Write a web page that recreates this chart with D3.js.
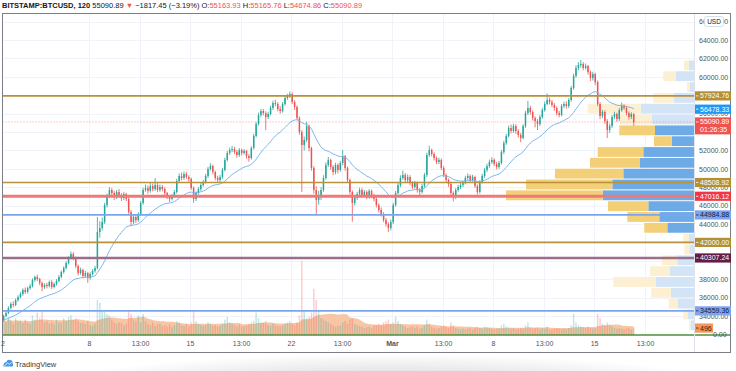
<!DOCTYPE html>
<html><head><meta charset="utf-8">
<script src="https://cdn.jsdelivr.net/npm/d3@7"></script>
<style>html,body{margin:0;padding:0;background:#fff;}svg{display:block;font-family:"Liberation Sans",Arial,sans-serif;}</style>
</head><body><svg id="c" width="736" height="371"></svg>
<script>
// ---------------- DATA ----------------
const symbolTitle = "BITSTAMP:BTCUSD, 120";
const lastQuote = {price: "55090.89", change: "\u22121817.45 (\u22123.19%)", O: "55163.93", H: "55165.76", L: "54674.86", C: "55090.89"};
const startDate = Date.UTC(2021, 1, 2);   // first 4h candle opens Feb 2 2021
const firstOpen = 33560;
const closes = [
34000,34330,34870,35300,35200,35740, 36060,36390,36830,36610,37040,37260, 37910,38240,38020,37590,37150,37370,
37260,37690,37150,37480,37800,38240, 38780,39220,39760,40300,40740,40300, 39430,38670,39000,38350,38670,38130,
38560,38890,39220,43130,43560,44220, 46060,47040,47700,47370,46930,47480, 47150,46820,47260,46720,45300,44220,
44760,44430,45090,46280,47700,47910, 47590,48130,47800,48240,47700,48020, 47800,47370,46930,46720,47040,47480,
48670,49220,49000,49430,49110,48890, 47910,46720,47370,47800,48240,48560, 49220,49980,50300,49650,49000,48780,
49110,49870,50960,51720,52040,52150, 51830,51500,52040,51720,51940,51390, 51170,52260,53570,54870,55850,56280,
56060,55630,55960,56610,57150,57040, 56500,56280,57040,57700,57910,58130, 57260,56720,55520,54000,52590,53130,
54650,52260,50090,47700,46610,47040, 47700,49000,50410,50960,50200,49650, 50410,49870,50630,51390,50090,48780,
47480,46280,46820,47260,47700,47150, 47480,46930,47590,47040,46720,46060, 45520,45090,44430,44000,43570,44220,
46060,47370,48240,49000,49330,48780, 49110,48450,48020,48450,47700,47480, 48130,49330,51500,52040,51610,51170,
50740,50960,50090,49330,48780,48350, 47370,46930,47700,48020,48240,48450, 49000,49220,48780,49110,48130,47480,
48560,49220,49870,50300,50740,50960, 50520,50200,50630,51830,52800,53570, 54430,54110,54650,54110,53670,53350,
54650,56060,56610,56170,55520,55190, 54870,55630,56390,57040,57480,57260, 56930,56610,56060,55850,56830,57040,
56830,57480,58780,60090,60960,61280, 61390,60960,61170,60520,59870,60300, 59430,57040,55740,56170,55190,54220,
54650,55630,55960,55410,56390,56830, 56610,56060,55630,55960,55090.89];
const highs = [
34150,34500,35050,35500,35600,35900, 36250,36600,37000,37100,37200,37500, 38100,38400,38500,38150,37750,37550,
37600,37850,37900,37650,38000,38450, 38950,39400,39950,40500,41000,40950, 40450,39600,39250,39150,38900,38800,
38750,39100,39450,44760,44300,44700, 46300,47300,48020,47900,47600,47700, 47800,47350,47500,47400,46900,45500,
45000,45100,45300,46500,47950,48300, 48200,48500,48400,49000,48450,48300, 48250,48000,47500,47100,47250,47700,
48900,49500,49600,49700,49650,49300, 49050,48100,47550,48000,48450,48800, 49450,50200,50600,50450,49800,49250,
49350,50100,51200,51950,52300,52500, 52400,52050,52250,52200,52150,52050, 51600,52450,53800,55100,56100,56500,
56500,56250,56200,56850,57400,57500, 57250,56800,57250,57950,58150,58400, 58300,57450,56900,55700,54200,53500,
55100,54800,52400,50300,48100,47600, 48000,49300,50700,51300,51100,50400, 50650,50600,50850,52040,51500,50250,
48950,47650,47050,47500,47950,47900, 47700,47650,47800,47750,47300,46900, 46250,45800,45300,44650,44200,44500,
46300,47600,48500,49300,49800,49550, 49400,49300,48650,48700,48600,47900, 48350,49550,51750,52500,52200,51800,
51350,51200,51100,50300,49500,48950, 48500,47550,47900,48250,48450,48700, 49250,49500,49400,49350,49250,48300,
48750,49450,50100,50550,51000,51250, 51150,50750,50850,52050,53050,53800, 54700,54800,54900,54850,54300,53900,
54850,56300,57380,56850,56350,55700, 55400,55850,56600,57300,58200,57750, 57500,57150,56800,56300,57050,57300,
57350,57700,59000,60350,61250,61600, 61826,61600,61450,61300,60700,60550, 60450,59600,57250,56400,56350,55400,
54900,55850,56200,56100,56600,57200, 57000,56800,56250,56150,56050];
const lows = [
33400,33850,34200,34700,34950,35050, 35550,35900,36200,36400,36450,36850, 37100,37700,37800,37350,36700,36950,
37000,37100,36950,37000,37300,37650, 38100,38600,39050,39600,40150,40050, 39200,38400,38500,38100,38150,37600,
37950,38400,38700,39050,42500,43300, 44000,45800,46800,47000,46600,46700, 46900,46500,46600,46500,45100,43780,
44000,44100,44250,44900,46100,47500, 47300,47400,47550,47600,47450,47500, 47550,47100,46700,46400,46550,46850,
47300,48450,48750,48800,48900,48600, 47700,46300,46500,47200,47600,48050, 48400,49000,49800,49400,48750,48500,
48550,48900,49700,50800,51500,51800, 51600,51200,51300,51450,51550,51100, 50770,51000,52100,53400,54700,55600,
55800,54200,55400,55800,56400,56800, 56250,56000,56100,56850,57500,57700, 57050,56400,55300,53700,47480,52000,
52900,51900,49800,47300,44980,46100, 46600,47500,48800,50200,49900,49300, 49400,49500,49700,50400,49800,48500,
47200,44250,46000,46600,47050,46900, 46950,46700,46750,46800,46450,45800, 45250,44800,44200,43700,43130,43300,
44000,45900,47200,48000,48800,48500, 48550,48200,47800,47850,47400,47100, 47300,47950,49100,51300,51350,50900,
50500,50500,49850,49100,48500,48050, 47100,46450,46700,47500,47800,48000, 48300,48800,48550,48600,47900,47200,
47300,48400,49000,49650,50100,50550, 50300,49950,50000,50450,51600,52600, 53400,53850,53900,53800,53400,52900,
53200,54450,55850,55900,55250,54500, 54220,54650,55450,56200,56900,57000, 56700,56300,55800,55600,55700,56600,
56550,56600,57300,58600,59900,60700, 61000,60700,60800,60250,59550,59600, 59100,56800,55400,55500,54900,53350,
53900,54450,55400,55100,55200,56200, 56400,55800,55350,55400,54674.86];
const volumes = [
1100,900,1300,1000,800,1200, 950,1000,850,1100,900,800, 1400,1100,1600,1200,1700,900,
1000,800,900,750,1100,850, 900,1200,1000,1300,1400,1100, 1200,1000,850,900,800,1000,
700,650,800,2500,2300,1800, 1700,1500,1400,1100,900,800, 900,850,700,800,1800,1500,
1100,1000,1400,900,1500,1000, 800,700,900,650,750,800, 650,700,600,750,550,700,
1000,900,700,650,800,600, 900,1800,1000,800,700,650, 700,900,800,650,700,600,
650,800,1100,1300,900,800, 700,600,750,650,600,700, 800,900,1000,1600,1200,900,
900,1000,700,650,800,700, 650,600,700,800,900,1000, 800,700,900,1400,5300,1800,
1200,1300,1600,3300,2500,1700, 1200,1100,1000,900,800,700, 600,650,700,900,1000,800,
1100,1200,800,700,650,600, 500,550,600,500,650,700, 800,700,900,1000,1100,800,
900,1300,1000,800,700,600, 500,550,600,500,600,450, 500,700,1100,800,600,500,
450,500,600,700,600,500, 900,700,500,450,400,450, 400,450,500,400,550,600,
500,450,600,550,500,450, 400,450,500,700,800,600, 550,450,500,400,450,500,
450,700,900,500,450,500, 550,400,500,450,600,400, 400,450,500,450,400,450,
400,500,700,1500,900,700, 600,550,500,600,500,450, 500,1500,1200,800,700,900,
700,600,500,450,500,450, 400,450,500,400,496];
const emaPeriod = 25;          // 25 x 4h  (= 50 x 2h)
const volMaPeriod = 20;

// visible-range volume profile (rows from top price downward)
const vpTopPrice = 61830, vpRowStep = 1177;
const vpUp   = [530,1800,400,2000,5330,4230,3900,2230,5070,5400,7070,8170,9130,4570,3470,2670,530,470,1670,2400,3830,2330,1600,600,350];
const vpDown = [470,1270,300,2070,5300,3170,3570,1770,4560,5000,6830,8630,9670,4030,3200,2300,540,500,1530,2000,4240,1940,930,470,150];
const valueAreaRows = [6, 15];

const priceTicks = [66000,64000,62000,60000,58000,56000,54000,52000,50000,48000,46000,44000,42000,40000,38000,36000,34000];
const hiddenTicks = [58000,54000,42000,40000];   // fully covered by price labels in the reference
const timeTickDates = ["2021-02-02T00:00Z","2021-02-08T00:00Z","2021-02-11T13:00Z","2021-02-15T00:00Z","2021-02-18T13:00Z","2021-02-22T00:00Z","2021-02-25T13:00Z","2021-03-01T00:00Z","2021-03-04T13:00Z","2021-03-08T00:00Z","2021-03-11T13:00Z","2021-03-15T00:00Z","2021-03-18T13:00Z"];
const timeTickLabels = ["2","8","13:00","15","13:00","22","13:00","Mar","13:00","8","13:00","15","13:00"];

const levelPrices = [57924.76, 48508.92, 47016.12, 44984.88, 42000.00, 40307.24, 34559.36];
const levelKinds  = ["gold","gold","red","blue","gold","maroon","blue"];
const maLastValue = 56478.33;
const lastPrice = 55090.89;
const countdown = "01:26:35";
const lastVolume = 496;

// ---------------- CHART ----------------
const svg = d3.select("#c");
const plotL = 2.5, plotR = 694, plotT = 13.5, plotB = 335, frameR = 730.5, frameB = 352.5;
const H4 = 4 * 3600 * 1000;

const x = d3.scaleUtc().domain([new Date(startDate), new Date(Date.UTC(2021, 2, 19))]).range([2.4, 2.4 + 14.43 * 45]);
const y = d3.scaleLinear().domain([64000, 34000]).range([40, 316]);
const yVol = d3.scaleLinear().domain([0, 5000]).range([335, 265]);
const vpX = d3.scaleLinear().domain([0, 10000]).range([0, 100]);

const n = Math.min(closes.length, highs.length, lows.length, volumes.length);
const candles = d3.range(n).map(i => ({
  t: new Date(startDate + i * H4 + H4 / 2),
  o: i ? closes[i - 1] : firstOpen, h: highs[i], l: lows[i], c: closes[i], v: volumes[i]
}));
let e = firstOpen; const alpha = 2 / (emaPeriod + 1);
candles.forEach(d => { e = e + alpha * (d.c - e); d.ema = e; });
candles.forEach((d, i) => { const s = candles.slice(Math.max(0, i - volMaPeriod + 1), i + 1); d.vma = d3.mean(s, q => q.v); });

const step = x(new Date(startDate + H4)) - x(new Date(startDate));
const bw = step * 0.62;

svg.append("rect").attr("width", 736).attr("height", 371).attr("fill", "#fff");

// bottom shadow
const defs = svg.append("defs");
const rg = defs.append("radialGradient").attr("id", "sh").attr("cx", "50%").attr("cy", "50%").attr("r", "50%");
rg.append("stop").attr("offset", "0%").attr("stop-color", "#000").attr("stop-opacity", 0.2);
rg.append("stop").attr("offset", "100%").attr("stop-color", "#000").attr("stop-opacity", 0);
svg.append("ellipse").attr("cx", 390).attr("cy", 388).attr("rx", 350).attr("ry", 34).attr("fill", "url(#sh)");
svg.append("rect").attr("x", 0).attr("y", 0).attr("width", 736).attr("height", frameB + 0.5).attr("fill", "#fff");

defs.append("clipPath").attr("id", "plot").append("rect").attr("x", plotL).attr("y", plotT).attr("width", plotR - plotL).attr("height", plotB - plotT);
const g = svg.append("g").attr("clip-path", "url(#plot)");

// grid
const tickDates = timeTickDates.map(s => new Date(s));
g.selectAll(".vg").data(tickDates.slice(1)).join("line")
  .attr("x1", d => Math.round(x(d)) + 0.5).attr("x2", d => Math.round(x(d)) + 0.5)
  .attr("y1", plotT).attr("y2", plotB).attr("stroke", "#f0f3fa").attr("stroke-width", 1);
g.selectAll(".hg").data(priceTicks).join("line")
  .attr("x1", plotL).attr("x2", plotR)
  .attr("y1", d => Math.round(y(d)) + 0.5).attr("y2", d => Math.round(y(d)) + 0.5)
  .attr("stroke", "#f0f3fa").attr("stroke-width", 1);

// volume MA area + bars
g.append("path").datum(candles)
  .attr("d", d3.area().x(d => x(d.t)).y0(yVol(0)).y1(d => yVol(d.vma)).curve(d3.curveMonotoneX))
  .attr("fill", "#f7c6a4");
g.selectAll(".vb").data(candles).join("rect")
  .attr("x", d => x(d.t) - bw / 2).attr("width", bw)
  .attr("y", d => yVol(d.v)).attr("height", d => yVol(0) - yVol(d.v))
  .attr("fill", d => d.c >= d.o ? "rgba(38,166,154,0.28)" : "rgba(239,83,80,0.28)");

// volume profile
const vpRows = vpUp.map((u, r) => ({r, u, d: vpDown[r], top: vpTopPrice - r * vpRowStep, bot: vpTopPrice - (r + 1) * vpRowStep,
  va: r >= valueAreaRows[0] && r <= valueAreaRows[1]}));
const vpG = g.append("g");
vpRows.forEach(row => {
  const y0 = y(row.top) + 0.5, h = y(row.bot) - y(row.top) - 1;
  const wu = vpX(row.u), wd = vpX(row.d);
  vpG.append("rect").attr("x", plotR - wu).attr("y", y0).attr("width", wu).attr("height", h)
    .attr("fill", row.va ? "#6eaae6" : "#d2e4f6");
  vpG.append("rect").attr("x", plotR - wu - wd).attr("y", y0).attr("width", wd).attr("height", h)
    .attr("fill", row.va ? "#f3cf77" : "#fdefd1");
});

// candles
const cg = g.append("g");
cg.selectAll("line").data(candles).join("line")
  .attr("x1", d => x(d.t)).attr("x2", d => x(d.t))
  .attr("y1", d => y(d.h)).attr("y2", d => y(d.l))
  .attr("stroke", d => d.c >= d.o ? "#26a69a" : "#ef5350").attr("stroke-width", 0.8);
cg.selectAll("rect").data(candles).join("rect")
  .attr("x", d => x(d.t) - bw / 2).attr("width", bw)
  .attr("y", d => y(Math.max(d.o, d.c))).attr("height", d => Math.max(0.8, Math.abs(y(d.o) - y(d.c))))
  .attr("fill", d => d.c >= d.o ? "#26a69a" : "#ef5350");

// EMA
g.append("path").datum(candles)
  .attr("d", d3.line().x(d => x(d.t)).y(d => y(d.ema)))
  .attr("fill", "none").attr("stroke", "#7db6ee").attr("stroke-width", 1);

// levels
const lvlStyle = {
  gold:   {line: "#b8923a", w: 1.6, bg: "#b48f33", fg: "#fff"},
  red:    {line: "#f07878", w: 2.8, bg: "#f23645", fg: "#fff"},
  blue:   {line: "#7aa6ef", w: 1.8, bg: "#7ca5ee", fg: "#13214d"},
  maroon: {line: "#9c6e8b", w: 2.6, bg: "#641c43", fg: "#fff"}
};
levelPrices.forEach((p, i) => {
  const s = lvlStyle[levelKinds[i]];
  g.append("line").attr("x1", plotL).attr("x2", plotR).attr("y1", y(p)).attr("y2", y(p))
    .attr("stroke", s.line).attr("stroke-width", s.w);
});
g.append("line").attr("x1", plotL).attr("x2", plotR).attr("y1", y(lastPrice)).attr("y2", y(lastPrice))
  .attr("stroke", "#ef5350").attr("stroke-opacity", 0.55).attr("stroke-dasharray", "1,2");

// frame & separators
svg.append("line").attr("x1", plotL).attr("x2", frameR).attr("y1", plotB).attr("y2", plotB).attr("stroke", "#4b8f3e").attr("stroke-width", 1.3);
svg.append("line").attr("x1", plotR + 0.5).attr("x2", plotR + 0.5).attr("y1", plotT).attr("y2", frameB).attr("stroke", "#e0e3eb");
svg.append("rect").attr("x", plotL).attr("y", plotT).attr("width", frameR - plotL).attr("height", frameB - plotT)
  .attr("fill", "none").attr("stroke", "#7b7e86").attr("stroke-width", 1);

// price axis
const ax = svg.append("g").attr("transform", `translate(${plotR},0)`)
  .call(d3.axisRight(y).tickValues(priceTicks.filter(t => !hiddenTicks.includes(t))).tickFormat(d3.format(".2f")).tickSize(0).tickPadding(5));
ax.select(".domain").remove();
ax.selectAll("text").attr("font-size", 7).attr("fill", "#50535e").attr("font-family", "Liberation Sans, Arial, sans-serif");
svg.append("text").attr("x", 713).attr("y", 337).attr("font-size", 7).attr("fill", "#50535e").text("0.00");

// USD box
svg.append("rect").attr("x", 704.5).attr("y", 16.5).attr("width", 19).attr("height", 10).attr("rx", 2)
  .attr("fill", "#fff").attr("stroke", "#d1d4dc").attr("stroke-width", 0.8);
svg.append("text").attr("x", 714).attr("y", 24).attr("text-anchor", "middle").attr("font-size", 6.5).attr("fill", "#131722").text("USD");

function label(yc, txt, bg, fg, w = 36) {
  const gg = svg.append("g");
  gg.append("rect").attr("x", 695).attr("y", yc - 4.6).attr("width", w).attr("height", 9.2).attr("fill", bg);
  gg.append("line").attr("x1", 696).attr("x2", 698.5).attr("y1", yc).attr("y2", yc).attr("stroke", fg).attr("stroke-width", 0.8);
  gg.append("text").attr("x", 700).attr("y", yc + 2.5).attr("font-size", 7).attr("fill", fg).text(txt);
}
levelPrices.forEach((p, i) => { const s = lvlStyle[levelKinds[i]]; label(y(p), d3.format(".2f")(p), s.bg, s.fg); });
label(y(maLastValue), d3.format(".2f")(maLastValue), "#2196f3", "#fff");
{
  const yc = y(lastPrice);
  svg.append("rect").attr("x", 695).attr("y", yc - 4.6).attr("width", 36).attr("height", 17).attr("fill", "#ef5350");
  svg.append("line").attr("x1", 696).attr("x2", 698.5).attr("y1", yc).attr("y2", yc).attr("stroke", "#fff").attr("stroke-width", 0.8);
  svg.append("text").attr("x", 700).attr("y", yc + 2.5).attr("font-size", 7).attr("fill", "#fff").text(d3.format(".2f")(lastPrice));
  svg.append("text").attr("x", 700).attr("y", yc + 10.5).attr("font-size", 7).attr("fill", "#fff").text(countdown);
}
label(yVol(lastVolume), String(lastVolume), "#f5965a", "#3a1d10", 18);

// time axis
const tx = svg.append("g").attr("transform", `translate(0,${plotB})`)
  .call(d3.axisBottom(x).tickValues(tickDates).tickFormat((d, i) => timeTickLabels[i]).tickSize(0).tickPadding(6));
tx.select(".domain").remove();
tx.selectAll("text").attr("font-size", 7).attr("fill", "#50535e").attr("font-family", "Liberation Sans, Arial, sans-serif")
  .attr("font-weight", (d, i) => timeTickLabels[i] === "Mar" ? "bold" : null);

// title
const tt = svg.append("text").attr("x", 2).attr("y", 8).attr("font-size", 7.5).attr("fill", "#131722");
tt.append("tspan").attr("font-weight", "bold").text(symbolTitle + " ");
tt.append("tspan").text(lastQuote.price + " ");
tt.append("tspan").attr("fill", "#ef5350").text("\u25BC ");
tt.append("tspan").text(lastQuote.change + " ");
[["O", lastQuote.O], ["H", lastQuote.H], ["L", lastQuote.L], ["C", lastQuote.C]].forEach(([k, v]) => {
  tt.append("tspan").text(k + ":");
  tt.append("tspan").attr("fill", "#ef5350").text(v + " ");
});

// TradingView logo
svg.append("path").attr("d", "M3.5 366.5 Q3 362.5 6.3 362 Q7.4 358.8 10.5 360 Q13 360.6 12.6 363.4 Q14 366.5 11.5 366.5 Z")
  .attr("fill", "#4b95e6");
svg.append("path").attr("d", "M4.5 366 L7.5 362.8 L9.3 364.6 L11.6 362.2").attr("fill", "none").attr("stroke", "#fff").attr("stroke-width", 0.8);
svg.append("text").attr("x", 15).attr("y", 366.5).attr("font-size", 7.5).attr("fill", "#3a3a3a").text("TradingView");
</script></body></html>
